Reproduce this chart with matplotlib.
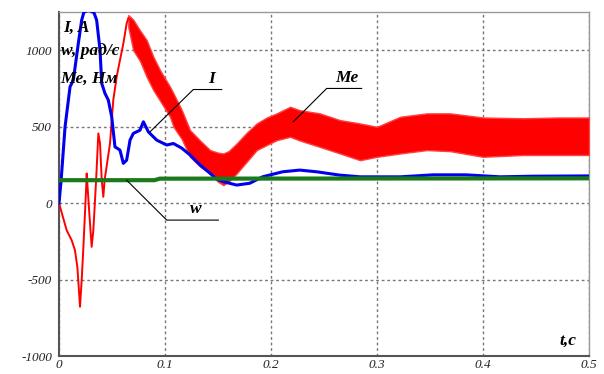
import matplotlib
matplotlib.use("Agg")
import matplotlib.pyplot as plt

# current I, A
i_t = [0, 0.002, 0.0057, 0.0104, 0.0135, 0.0182, 0.0214, 0.0235, 0.028, 0.033,
       0.0355, 0.0387, 0.0403, 0.0434, 0.0465, 0.0497, 0.0528, 0.0575, 0.0607,
       0.0638, 0.067, 0.0701, 0.0764, 0.0796, 0.0843, 0.0922, 0.1016, 0.1079,
       0.1157, 0.1236, 0.133, 0.1425, 0.149, 0.158, 0.1676, 0.18, 0.192, 0.211,
       0.227, 0.243, 0.265, 0.284, 0.322, 0.353, 0.384, 0.416, 0.447, 0.5]
i_v = [0, 150, 499, 761, 804, 1044, 1197, 1250, 1262, 1245,
       1197, 1000, 783, 717, 674, 565, 368, 347, 260,
       281, 412, 456, 477, 532, 466, 412, 380, 390,
       360, 315, 250, 195, 155, 135, 118, 130, 172, 205,
       216, 205, 183, 172, 172, 185, 185, 172, 176, 178]

# speed w, rad/s
w_t = [0, 0.09, 0.095, 0.5]
w_v = [150, 150, 160, 162]

# torque Me before the ripple band
me_t = [0, 0.0072, 0.0119, 0.015, 0.0173, 0.0198, 0.0214, 0.023, 0.0255, 0.0261,
        0.0286, 0.0308, 0.0324, 0.035, 0.0371, 0.0387, 0.0403, 0.0418, 0.043,
        0.0481, 0.0512, 0.0544, 0.0575, 0.0607, 0.0638, 0.0654]
me_v = [0, -177, -242, -307, -417, -678, -504, -286, 85, 194,
        -68, -286, -177, 150, 456, 390, 150, 41, 150,
        390, 674, 826, 935, 1044, 1175, 1210]

# torque Me ripple band: upper / lower edge
band_t = [0.0654, 0.070, 0.0764, 0.0827, 0.089, 0.0953, 0.1047, 0.108, 0.1157,
          0.1236, 0.133, 0.1425, 0.150, 0.155, 0.160, 0.1676, 0.177, 0.1865,
          0.196, 0.2054, 0.218, 0.227, 0.246, 0.265, 0.284, 0.300, 0.322,
          0.347, 0.369, 0.400, 0.438, 0.470, 0.5]
band_hi = [1230, 1200, 1130, 1066, 957, 870, 761, 717, 610,
           477, 410, 347, 330, 325, 340, 390, 460, 521,
           560, 587, 630, 608, 587, 543, 521, 499, 565,
           587, 587, 560, 555, 560, 560]
band_lo = [1150, 1000, 930, 826, 739, 670, 565, 499, 420,
           303, 240, 194, 140, 118, 140, 194, 270, 347,
           380, 412, 434, 410, 368, 325, 281, 303, 325,
           347, 340, 303, 315, 315, 315]

x_ticks = [0, 0.1, 0.2, 0.3, 0.4, 0.5]
x_labels = ["0", "0.1", "0.2", "0.3", "0.4", "0.5"]
y_ticks = [-1000, -500, 0, 500, 1000]
y_labels = ["-1000", "-500", "0", "500", "1000"]

serif = "Liberation Serif"

fig = plt.figure(figsize=(6.04, 3.74), dpi=100)
ax = fig.add_axes([0.0977, 0.0481, 0.8775, 0.9198])

ax.fill_between(band_t, band_lo, band_hi, color="#ff0000", ec="#ff4040", lw=1.0, zorder=3)
ax.plot(me_t, me_v, color="#ff0000", lw=1.4, zorder=3)
ax.plot(i_t, i_v, color="#0000ee", lw=2.2, zorder=4)
ax.plot(w_t, w_v, color="#1a7a1a", lw=3.0, zorder=5)

ax.set_xlim(0, 0.5)
ax.set_ylim(-1000, 1250)
ax.set_xticks(x_ticks)
ax.set_xticklabels(x_labels, fontfamily=serif, fontstyle="italic", fontsize=9.5)
ax.set_yticks(y_ticks)
ax.set_yticklabels(y_labels, fontfamily=serif, fontstyle="italic", fontsize=9.5)
ax.tick_params(axis="y", length=0, pad=5, colors="#222222")
ax.tick_params(axis="x", length=0, pad=2, colors="#222222")
ax.grid(True, color="#777777", ls=(0, (2, 2)), lw=1.0)

for s in ["left", "bottom"]:
    ax.spines[s].set_color("#555555")
    ax.spines[s].set_linewidth(1.5)
for s in ["top", "right"]:
    ax.spines[s].set_color("#999999")
    ax.spines[s].set_linewidth(1.0)

lab = dict(fontfamily=serif, fontstyle="italic", fontweight="bold", fontsize=12.5,
           color="black", zorder=6)
ax.text(0.004, 1120, "I, A", va="baseline", **lab)
ax.text(0.002, 968, "w, рад/с", va="baseline", **lab)
ax.text(0.001, 785, "Me, Нм", va="baseline", **lab)
ax.text(0.4884, -929, "t,с", ha="right", va="baseline", **lab)

# callouts
ax.plot([0.0858, 0.1267, 0.1535], [466, 743, 743], color="black", lw=0.8, zorder=6)
ax.text(0.144, 760, "I", ha="center", va="bottom", **lab)
ax.plot([0.221, 0.2525, 0.2855], [532, 750, 750], color="black", lw=0.8, zorder=6)
ax.text(0.2714, 767, "Me", ha="center", va="bottom", **lab)
ax.plot([0.0638, 0.1016, 0.1503], [150, -111, -111], color="black", lw=0.8, zorder=6)
ax.text(0.1292, -94, "w", ha="center", va="bottom", **lab)

fig.savefig("out.png", dpi=100)
